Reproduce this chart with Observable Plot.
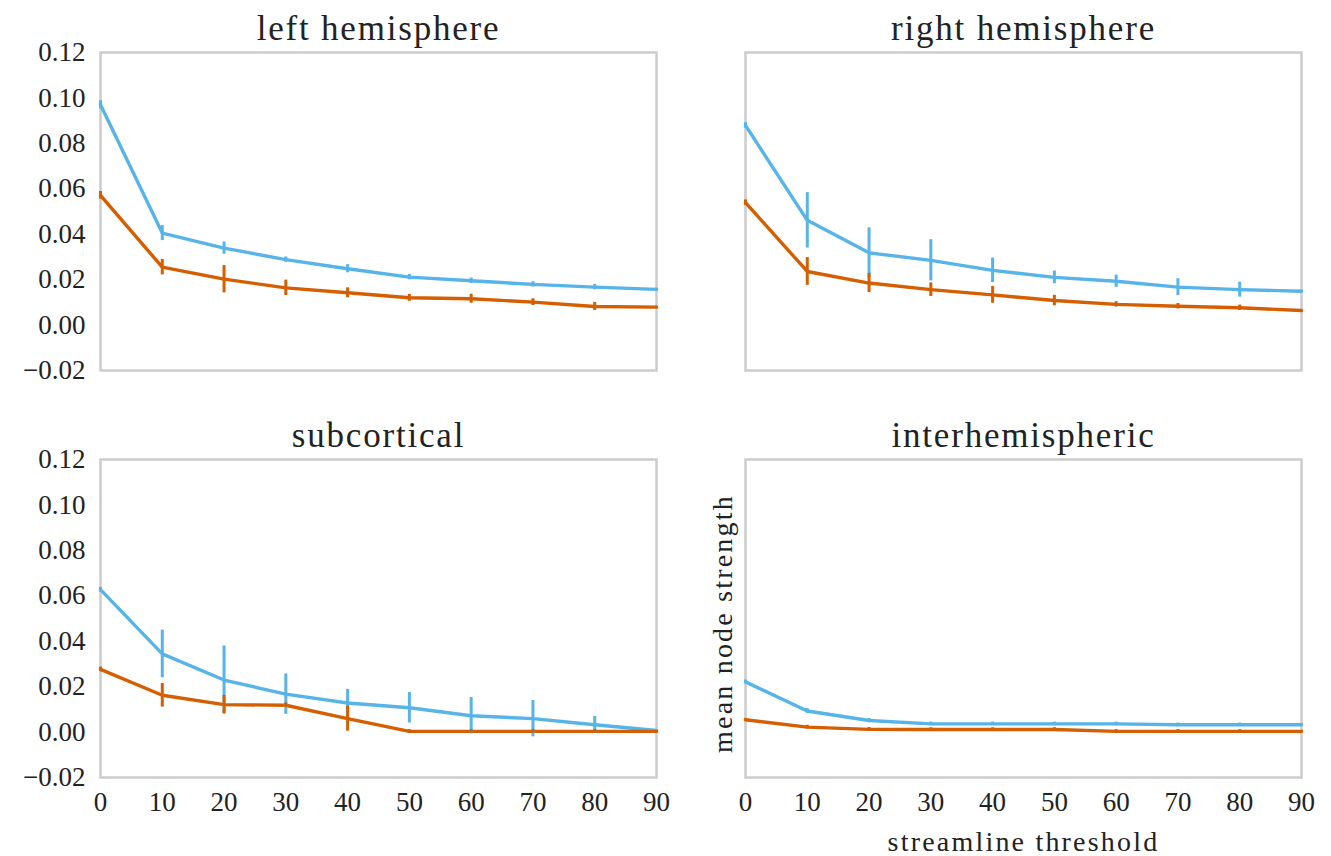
<!DOCTYPE html>
<html>
<head>
<meta charset="utf-8">
<script src="https://cdn.jsdelivr.net/npm/d3@7"></script>
<script src="https://cdn.jsdelivr.net/npm/@observablehq/plot@0.6"></script>
<style>
  html, body { margin: 0; padding: 0; background: #fff; }
  #chart { position: relative; width: 1331px; height: 856px; font-family: "Liberation Serif", "DejaVu Serif", serif; }
  .panel { position: absolute; }
  .panel svg { overflow: visible; }
  .panel .title text { letter-spacing: 1.8px; }
  .panel .axlabel text { letter-spacing: 2.2px; }
</style>
</head>
<body>
<div id="chart"></div>
<script>
// ---- data ----
const thresholds = [0, 10, 20, 30, 40, 50, 60, 70, 80, 90];
const panelTitles = ["left hemisphere", "right hemisphere", "subcortical", "interhemispheric"];
const yTicks = [-0.02, 0.00, 0.02, 0.04, 0.06, 0.08, 0.10, 0.12];
const xTicks = [0, 10, 20, 30, 40, 50, 60, 70, 80, 90];
const seriesNames = ["series A", "series B"];

// left hemisphere
const leftA    = [0.097, 0.0405, 0.0339, 0.0288, 0.0248, 0.0211, 0.0195, 0.0179, 0.0167, 0.0157];
const leftAErr = [0.0018, 0.0033, 0.0027, 0.0012, 0.0018, 0.0012, 0.0012, 0.0012, 0.0012, 0.0006];
const leftB    = [0.0571, 0.0255, 0.0202, 0.0164, 0.0142, 0.0120, 0.0116, 0.0101, 0.0082, 0.0079];
const leftBErr = [0.0017, 0.0034, 0.0060, 0.0034, 0.0022, 0.0015, 0.0020, 0.0015, 0.0018, 0.0004];

// right hemisphere
const rightA    = [0.0879, 0.0461, 0.0318, 0.0285, 0.0241, 0.0210, 0.0193, 0.0167, 0.0156, 0.0149];
const rightAErr = [0.0012, 0.0122, 0.0110, 0.0091, 0.0054, 0.0028, 0.0027, 0.0037, 0.0033, 0.0004];
const rightB    = [0.0539, 0.0236, 0.0185, 0.0156, 0.0133, 0.0108, 0.0091, 0.0083, 0.0076, 0.0064];
const rightBErr = [0.0012, 0.0061, 0.0042, 0.0030, 0.0037, 0.0023, 0.0012, 0.0012, 0.0012, 0.0004];

// subcortical
const subA    = [0.0627, 0.0344, 0.0229, 0.0167, 0.0128, 0.0107, 0.0072, 0.0059, 0.0032, 0.0007];
const subAErr = [0.0010, 0.0105, 0.0150, 0.0089, 0.0060, 0.0067, 0.0080, 0.0080, 0.0037, 0.0004];
const subB    = [0.0276, 0.0162, 0.0121, 0.0118, 0.0059, 0.0003, 0.0003, 0.0003, 0.0003, 0.0003];
const subBErr = [0.0010, 0.0052, 0.0040, 0.0010, 0.0055, 0.0008, 0.0008, 0.0008, 0.0008, 0.0004];

// interhemispheric
const interA    = [0.0221, 0.0093, 0.0051, 0.0036, 0.0036, 0.0036, 0.0036, 0.0032, 0.0032, 0.0032];
const interAErr = [0.0008, 0.0010, 0.0009, 0.0008, 0.0008, 0.0008, 0.0008, 0.0008, 0.0008, 0.0004];
const interB    = [0.0054, 0.0022, 0.0012, 0.0011, 0.0011, 0.0011, 0.0003, 0.0003, 0.0003, 0.0003];
const interBErr = [0.0006, 0.0008, 0.0008, 0.0008, 0.0008, 0.0008, 0.0008, 0.0008, 0.0008, 0.0004];

const yLabel = "mean node strength";
const xLabel = "streamline threshold";

// ---- build ----
const colors = ["#56B4E9", "#D55E00"];
function rows(a, aErr, b, bErr) {
  const out = [];
  thresholds.forEach((t, i) => out.push({series: seriesNames[0], x: t, y: a[i], lo: a[i] - aErr[i], hi: a[i] + aErr[i]}));
  thresholds.forEach((t, i) => out.push({series: seriesNames[1], x: t, y: b[i], lo: b[i] - bErr[i], hi: b[i] + bErr[i]}));
  return out;
}
const panels = [
  {title: panelTitles[0], data: rows(leftA, leftAErr, leftB, leftBErr), left: 0,   top: 0,   showX: false, showY: true,  ylab: false, xlab: false},
  {title: panelTitles[1], data: rows(rightA, rightAErr, rightB, rightBErr), left: 645, top: 0,   showX: false, showY: false, ylab: false, xlab: false},
  {title: panelTitles[2], data: rows(subA, subAErr, subB, subBErr), left: 0,   top: 407, showX: true,  showY: true,  ylab: false, xlab: false},
  {title: panelTitles[3], data: rows(interA, interAErr, interB, interBErr), left: 645, top: 407, showX: true,  showY: false, ylab: true,  xlab: true}
];

const container = document.getElementById("chart");
for (const p of panels) {
  const height = p.top === 0 ? 410 : 449;
  const marginBottom = height - 52 - 318;
  const marks = [
    Plot.frame({stroke: "#cccccc", strokeWidth: 2.5}),
    Plot.line(p.data, {x: "x", y: "y", z: "series", stroke: "series", strokeWidth: 3.4}),
    Plot.ruleX(p.data, {x: "x", y1: "lo", y2: "hi", stroke: "series", strokeWidth: 3}),
    Plot.text([p.title], {frameAnchor: "top", dy: -13, fontSize: 35, lineAnchor: "bottom", fill: "#222", className: "title"})
  ];
  if (p.showY) {
    marks.push(Plot.axisY({ticks: yTicks, tickSize: 0, tickPadding: 15, fontSize: 27, tickFormat: d3.format(".2f"), label: null, fill: "#222"}));
  } else {
    marks.push(Plot.axisY({ticks: [], label: null}));
  }
  if (p.showX) {
    marks.push(Plot.axisX({ticks: xTicks, tickSize: 0, tickPadding: 14, fontSize: 27, label: null, fill: "#222"}));
  } else {
    marks.push(Plot.axisX({ticks: [], label: null}));
  }
  if (p.ylab) {
    marks.push(Plot.text([yLabel], {frameAnchor: "left", textAnchor: "middle", rotate: -90, dx: -22, dy: 5, fontSize: 28, fill: "#222", className: "axlabel"}));
  }
  if (p.xlab) {
    marks.push(Plot.text([xLabel], {frameAnchor: "bottom", lineAnchor: "bottom", dy: 73, dx: 0, fontSize: 28, fill: "#222", className: "axlabel"}));
  }
  const chart = Plot.plot({
    width: 680,
    height: height,
    marginLeft: 100,
    marginRight: 24,
    marginTop: 52,
    marginBottom: marginBottom,
    style: {fontFamily: "Liberation Serif, DejaVu Serif, serif", background: "transparent", overflow: "visible"},
    x: {domain: [0, 90]},
    y: {domain: [-0.02, 0.12]},
    color: {domain: seriesNames, range: colors},
    marks
  });
  const div = document.createElement("div");
  div.className = "panel";
  div.style.left = p.left + "px";
  div.style.top = p.top + "px";
  div.appendChild(chart);
  container.appendChild(div);
}
</script>
</body>
</html>
